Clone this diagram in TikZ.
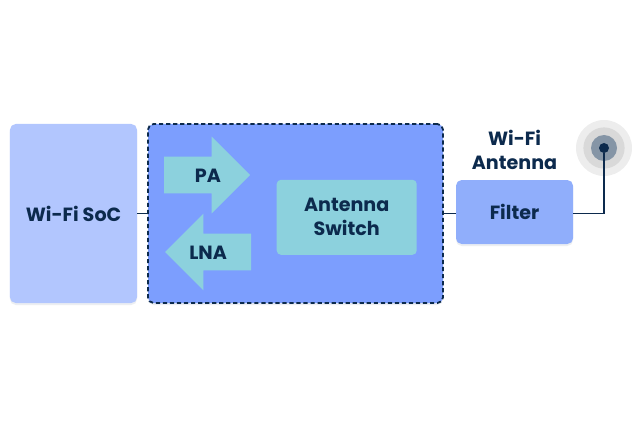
\documentclass[tikz,border=0pt]{standalone}
\usepackage{fontspec}
\setmainfont{Poppins}
\usepackage{xcolor}
\usetikzlibrary{arrows.meta, positioning, shapes.arrows, shadows}

\definecolor{navy}{HTML}{0C2A4D}
\definecolor{socblue}{HTML}{B2C6FE}
\definecolor{hubblue}{HTML}{7C9EFE}
\definecolor{filterblue}{HTML}{90AEFB}
\definecolor{teal}{HTML}{8CD1DD}

\begin{document}
\begin{tikzpicture}[
    font=\fontsize{13.6}{17}\selectfont\bfseries,
    text=navy,
    softshadow/.style={drop shadow={shadow xshift=0pt, shadow yshift=-0.05cm, opacity=0.08, fill=navy}},
    box/.style={rounded corners=4pt, align=center, inner sep=0pt, outer sep=0pt, softshadow},
    swbox/.style={rounded corners=3pt, align=center, inner sep=0pt, fill=teal, minimum width=3.5cm, minimum height=1.875cm},
    amp/.style={single arrow, fill=teal, inner sep=0pt, outer sep=0pt, minimum width=1.9cm, minimum height=2.15cm,
                text height=0.64cm, text depth=0.26cm,
                single arrow head extend=0.5cm, single arrow head indent=0pt},
    wire/.style={draw=navy, line width=1.4pt},
    ring/.style={circle, inner sep=0pt},
]

\useasboundingbox (0,0) rectangle (16,10.675);

\node[box, fill=socblue, minimum width=3.175cm, minimum height=4.475cm] (soc) at (1.8375,5.3375) {Wi-Fi SoC};
\node[box, fill=hubblue, minimum width=7.375cm, minimum height=4.475cm, right=0.275cm of soc,
      draw=navy, line width=1.3pt, densely dashed] (hub) {};
\node[swbox, left=0.65cm of hub.east, yshift=-0.095cm] (sw) {Antenna\\Switch};
\node[box, fill=filterblue, minimum width=2.925cm, minimum height=1.6cm, right=0.325cm of hub, yshift=0.0375cm] (filter) {Filter};

% power amp and low noise amp
\node[amp, anchor=tip] (pa) at (6.25,6.3) {\hspace*{0.5cm}PA};
\node[amp, anchor=tip, shape border rotate=180] (lna) at (4.125,4.375) {LNA\hspace*{0.45cm}};

\node[above=0.125cm of filter, align=center] (anttext) {Wi-Fi\\Antenna};

% antenna rings
\node[ring, fill=black!7, minimum size=1.4cm] (ring3) at (15.1,6.975) {};
\node[ring, fill=black!15, minimum size=1.03cm] (ring2) at (ring3) {};
\node[ring, fill=navy!50, minimum size=0.65cm] (ring1) at (ring3) {};
\node[ring, fill=navy, minimum size=0.25cm] (antdot) at (ring3) {};

\draw[wire] (soc) -- (hub);
\draw[wire] (hub.east) -- (hub.east -| filter.west);
\draw[wire] (hub.east -| filter.east) -| (antdot);

\end{tikzpicture}
\end{document}
